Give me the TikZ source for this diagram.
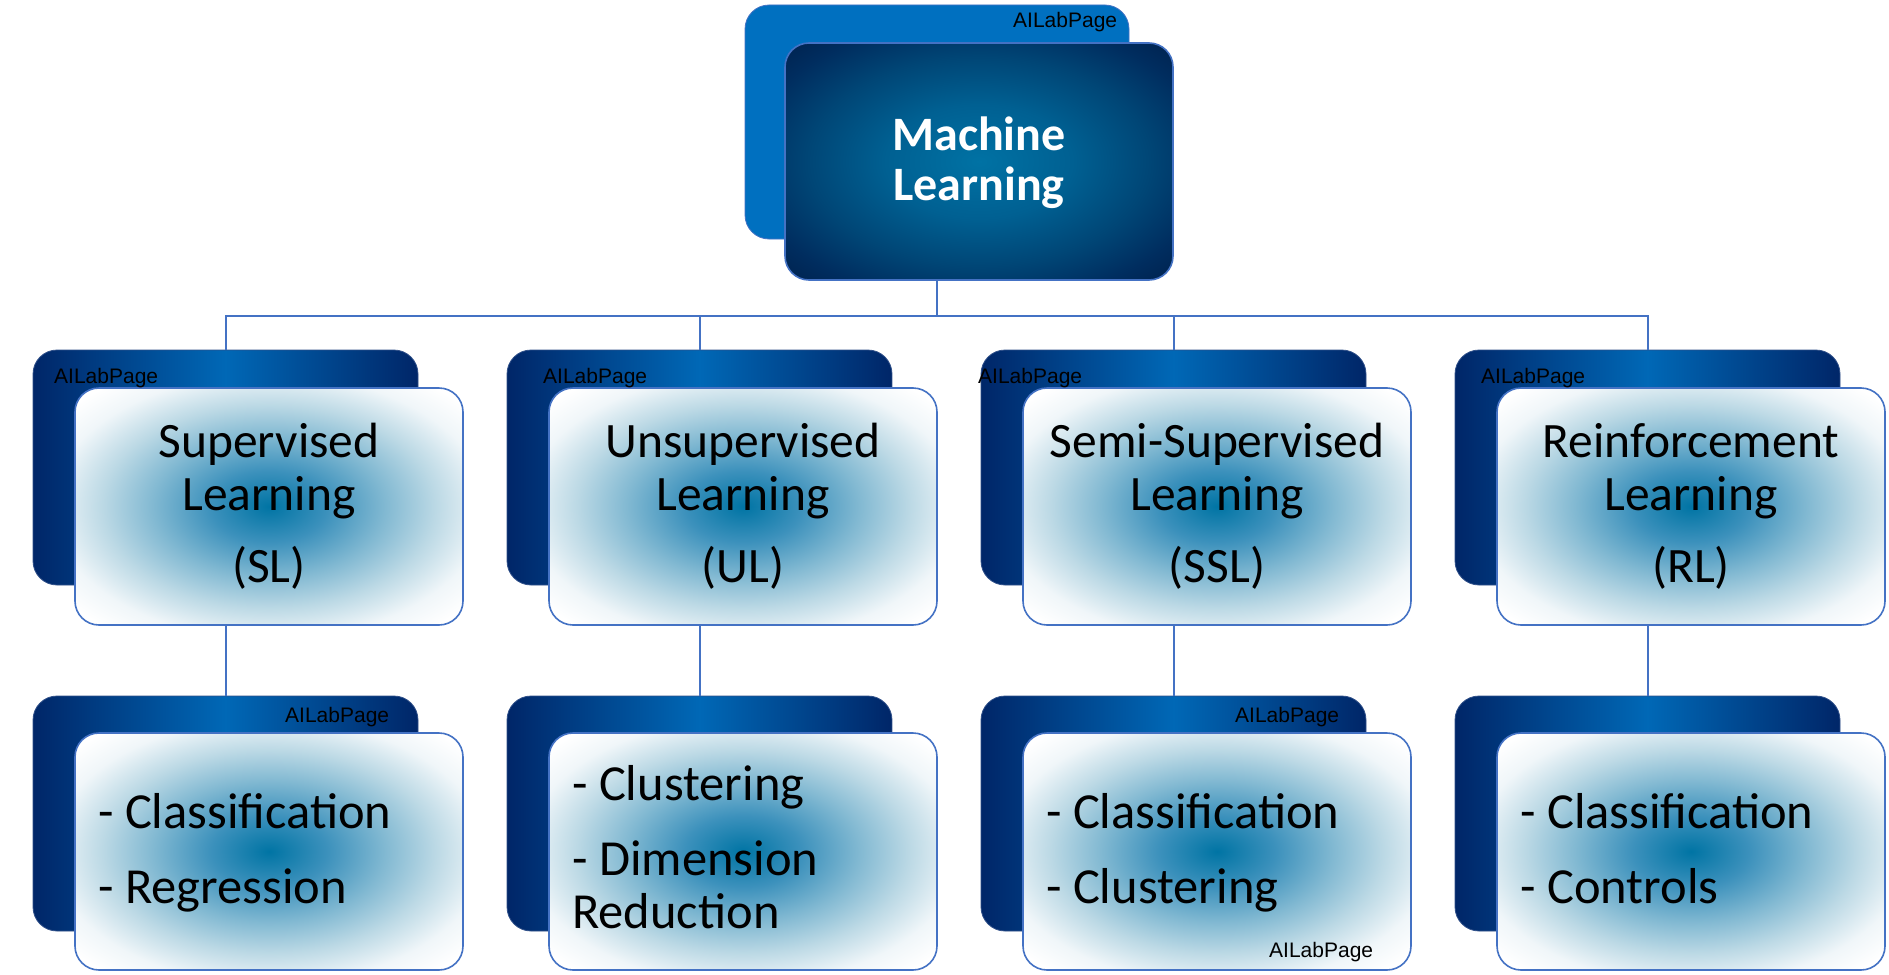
\documentclass[tikz,border=0pt]{standalone}
\usepackage{fontspec}
\setmainfont{Carlito}
\newfontfamily\wmfont{Liberation Sans}
\definecolor{glowC}{RGB}{0,116,164}
\definecolor{glowB}{RGB}{60,145,188}
\definecolor{glowA}{RGB}{130,185,210}
\definecolor{glowD}{RGB}{188,217,229}
\definecolor{glowE}{RGB}{240,246,249}
\definecolor{darkC}{RGB}{0,114,164}
\definecolor{darkB}{RGB}{0,96,146}
\definecolor{darkA}{RGB}{0,70,118}
\definecolor{darkD}{RGB}{0,45,95}
\definecolor{darkE}{RGB}{0,25,65}
\definecolor{navyE}{RGB}{0,38,104}
\definecolor{navyM}{RGB}{0,104,182}
\definecolor{topback}{RGB}{0,112,192}
\definecolor{edgeblue}{RGB}{68,114,196}
\pgfdeclareradialshading{lightglow}{\pgfpoint{0bp}{0bp}}{color(0bp)=(glowC); color(7.5bp)=(glowB); color(15bp)=(glowA); color(21.5bp)=(glowD); color(28bp)=(glowE); color(33bp)=(white); color(50bp)=(white)}
\pgfdeclareradialshading{darkglow}{\pgfpoint{0bp}{0bp}}{color(0bp)=(darkC); color(12bp)=(darkB); color(22bp)=(darkA); color(30bp)=(darkD); color(40bp)=(darkE); color(50bp)=(darkE)}
\tikzset{
  boxbase/.style={rectangle, rounded corners=24pt, anchor=north west, inner sep=0pt, outer sep=0pt},
  topbackbox/.style={boxbase, fill=topback, draw=edgeblue, line width=0.8pt, minimum width=384pt, minimum height=234pt},
  topfrontbox/.style={boxbase, shade, shading=darkglow, draw=edgeblue, line width=1.6pt, minimum width=388pt, minimum height=237pt},
  backbox/.style={boxbase, left color=navyE, right color=navyE, middle color=navyM, draw=edgeblue!70!black, line width=0.8pt, minimum width=385pt, minimum height=235pt},
  frontbox/.style={boxbase, shade, shading=lightglow, draw=edgeblue, line width=1.6pt, minimum width=388pt, minimum height=237pt},
  conn/.style={draw=edgeblue, line width=2pt},
  titletext/.style={font=\fontsize{48}{50}\selectfont\bfseries, text=white, anchor=base, inner sep=0pt},
  headtext/.style={font=\fontsize{49.5}{53}\selectfont, text=black, anchor=base, inner sep=0pt},
  itemtext/.style={font=\fontsize{50.5}{53}\selectfont, text=black, anchor=base west, inner sep=0pt},
  wmtext/.style={font=\wmfont\fontsize{21}{24}\selectfont, text=black, anchor=base west, inner sep=0pt}
}
\begin{document}
\begin{tikzpicture}[x=1pt,y=-1pt]
\useasboundingbox (0,0) rectangle (1889,974);
% back boxes
\node[topbackbox] (mlback) at (745,5) {};
\foreach \n/\x in {sl/33, ul/507, ssl/981, rl/1455} {
  \node[backbox] (\n back) at (\x,350) {};
  \node[backbox] (\n subback) at (\x,696) {};
}
% connectors
\coordinate (bus) at (0,316);
\draw[conn] (mlback.south) -- (mlback.south |- bus);
\draw[conn] (slback.north) |- (rlback.north |- bus) -- (rlback.north);
\draw[conn] (ulback.north) -- (ulback.north |- bus);
\draw[conn] (sslback.north) -- (sslback.north |- bus);
\foreach \n in {sl, ul, ssl, rl} {
  \draw[conn] (\n back.south) -- (\n subback.north);
}
% front boxes
\node[topfrontbox] (mlfront) at (785,43) {};
\foreach \n/\x in {sl/33, ul/507, ssl/981, rl/1455} {
  \node[frontbox] (\n front) at ({\x+42},388) {};
  \node[frontbox] (\n subfront) at ({\x+42},733) {};
}
% texts
\node[titletext] (mlt1) at (979,150) {Machine};
\node[titletext] (mlt2) at (979,200) {Learning};

\node[headtext] (slt1) at (269,457) {Supervised};
\node[headtext] (slt2) at (269,510) {Learning};
\node[headtext] (slt3) at (269,582) {(SL)};
\node[headtext] (ult1) at (743,457) {Unsupervised};
\node[headtext] (ult2) at (743,510) {Learning};
\node[headtext] (ult3) at (743,582) {(UL)};
\node[headtext] (sslt1) at (1217,457) {Semi-Supervised};
\node[headtext] (sslt2) at (1217,510) {Learning};
\node[headtext] (sslt3) at (1217,582) {(SSL)};
\node[headtext] (rlt1) at (1691,457) {Reinforcement};
\node[headtext] (rlt2) at (1691,510) {Learning};
\node[headtext] (rlt3) at (1691,582) {(RL)};

\node[itemtext] (sli1) at (98,828) {- Classification};
\node[itemtext] (sli2) at (98,903) {- Regression};
\node[itemtext] (uli1) at (572,800) {- Clustering};
\node[itemtext] (uli2) at (572,875) {- Dimension};
\node[itemtext] (uli3) at (572,928) {Reduction};
\node[itemtext] (ssli1) at (1046,828) {- Classification};
\node[itemtext] (ssli2) at (1046,903) {- Clustering};
\node[itemtext] (rli1) at (1520,828) {- Classification};
\node[itemtext] (rli2) at (1520,903) {- Controls};

% watermarks
\node[wmtext] (wm1) at (1013,28) {AILabPage};
\node[wmtext] (wm2) at (54,383) {AILabPage};
\node[wmtext] (wm3) at (543,383) {AILabPage};
\node[wmtext] (wm4) at (978,383) {AILabPage};
\node[wmtext] (wm5) at (1481,383) {AILabPage};
\node[wmtext] (wm6) at (285,722) {AILabPage};
\node[wmtext] (wm7) at (1235,722) {AILabPage};
\node[wmtext] (wm8) at (1269,957) {AILabPage};
\end{tikzpicture}
\end{document}
